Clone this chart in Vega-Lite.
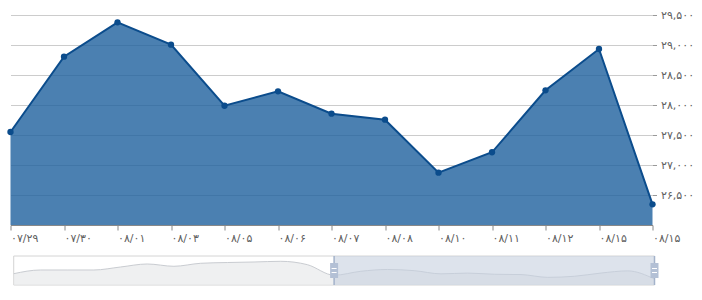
{
  "$schema": "https://vega.github.io/schema/vega-lite/v6.json",
  "background": "white",
  "padding": {"left": 6.5, "top": 0, "right": 0, "bottom": 0},
  "config": {"font": "DejaVu Sans", "view": {"stroke": null}},
  "spacing": 12,
  "datasets": {
    "main": [
      {"i": 0, "v": 27550}, {"i": 1, "v": 28805}, {"i": 2, "v": 29378}, {"i": 3, "v": 29005},
      {"i": 4, "v": 27988}, {"i": 5, "v": 28228}, {"i": 6, "v": 27855}, {"i": 7, "v": 27755},
      {"i": 8, "v": 26872}, {"i": 9, "v": 27212}, {"i": 10, "v": 28245}, {"i": 11, "v": 28933},
      {"i": 12, "v": 26345}
    ],
    "nav": [
      {"n": 0, "v": 28036}, {"n": 1, "v": 29216}, {"n": 2, "v": 29216}, {"n": 3, "v": 29216},
      {"n": 4, "v": 30170}, {"n": 5, "v": 31130}, {"n": 6, "v": 30400}, {"n": 7, "v": 31355},
      {"n": 8, "v": 31600}, {"n": 9, "v": 31770}, {"n": 10, "v": 31990}, {"n": 11, "v": 30909},
      {"n": 12, "v": 27550}, {"n": 13, "v": 28805}, {"n": 14, "v": 29378}, {"n": 15, "v": 29005},
      {"n": 16, "v": 27988}, {"n": 17, "v": 28228}, {"n": 18, "v": 27855}, {"n": 19, "v": 27755},
      {"n": 20, "v": 26872}, {"n": 21, "v": 27212}, {"n": 22, "v": 28245}, {"n": 23, "v": 28933},
      {"n": 24, "v": 26345}
    ]
  },
  "vconcat": [
    {
      "width": 642,
      "height": 225,
      "data": {"name": "main"},
      "mark": {
        "type": "area",
        "fill": "#1e609d",
        "fillOpacity": 0.8,
        "line": {"color": "#0b4c8c", "strokeWidth": 2},
        "point": {"color": "#0b4c8c", "filled": true, "size": 40, "opacity": 1}
      },
      "encoding": {
        "x": {
          "field": "i", "type": "ordinal", "sort": null,
          "scale": {"type": "point", "padding": 0},
          "axis": {
            "title": null, "labelAngle": 0, "labelAlign": "left", "labelDx": 2,
            "labelFontSize": 11, "labelColor": "#606060", "labelPadding": 2,
            "labelOverlap": false, "labelBound": false,
            "domainColor": "#888888", "tickColor": "#888888", "tickSize": 5,
            "labelExpr": "['۰۷/۲۹','۰۷/۳۰','۰۸/۰۱','۰۸/۰۳','۰۸/۰۵','۰۸/۰۶','۰۸/۰۷','۰۸/۰۸','۰۸/۱۰','۰۸/۱۱','۰۸/۱۲','۰۸/۱۵','۰۸/۱۵'][datum.value]"
          }
        },
        "y": {
          "field": "v", "type": "quantitative",
          "scale": {"domain": [26000, 29750], "zero": false, "nice": false},
          "axis": {
            "orient": "right", "title": null,
            "values": [26500, 27000, 27500, 28000, 28500, 29000, 29500],
            "grid": true, "gridColor": "#cccccc", "domain": false,
            "tickColor": "#999999", "tickSize": 4, "labelPadding": 4,
            "labelFontSize": 11, "labelColor": "#606060",
            "labelExpr": "['۲۶,۵۰۰','۲۷,۰۰۰','۲۷,۵۰۰','۲۸,۰۰۰','۲۸,۵۰۰','۲۹,۰۰۰','۲۹,۵۰۰'][(datum.value-26500)/500]"
          }
        },
        "y2": {"datum": 26000}
      }
    },
    {
      "width": 644,
      "height": 29,
      "layer": [
        {
          "data": {"values": [{"a": 0, "b": 24}]},
          "mark": {"type": "rect", "fill": "white", "stroke": "#d4d4d4", "strokeWidth": 1},
          "encoding": {
            "x": {"field": "a", "type": "quantitative", "scale": {"domain": [-0.12, 24], "nice": false, "zero": false}, "axis": null},
            "x2": {"field": "b"}
          }
        },
        {
          "data": {"name": "nav"},
          "mark": {"type": "area", "interpolate": "monotone", "fill": "#e8e9eb", "line": {"color": "#c9ccd1", "strokeWidth": 1, "interpolate": "monotone"}},
          "encoding": {
            "x": {"field": "n", "type": "quantitative", "axis": null},
            "y": {"field": "v", "type": "quantitative", "scale": {"domain": [24430, 33680], "zero": false, "nice": false}, "axis": null},
            "y2": {"datum": 24430}
          }
        },
        {
          "data": {"values": [{"a": 12, "b": 24}]},
          "mark": {"type": "rect", "fill": "#c6d0df", "opacity": 0.6},
          "encoding": {
            "x": {"field": "a", "type": "quantitative"},
            "x2": {"field": "b"}
          }
        },
        {
          "data": {"values": [{"h": 12}, {"h": 24}]},
          "layer": [
            {
              "mark": {"type": "rule", "color": "#a3b2ca", "strokeWidth": 1.5},
              "encoding": {"x": {"field": "h", "type": "quantitative"}}
            },
            {
              "mark": {"type": "tick", "orient": "vertical", "size": 15, "thickness": 8, "color": "#b3c0d5", "opacity": 1},
              "encoding": {
                "x": {"field": "h", "type": "quantitative"},
                "y": {"datum": 29055, "type": "quantitative"}
              }
            },
            {
              "mark": {"type": "tick", "orient": "horizontal", "size": 5, "thickness": 1, "color": "white", "yOffset": -2, "opacity": 1},
              "encoding": {
                "x": {"field": "h", "type": "quantitative"},
                "y": {"datum": 29055, "type": "quantitative"}
              }
            },
            {
              "mark": {"type": "tick", "orient": "horizontal", "size": 5, "thickness": 1, "color": "white", "yOffset": 2, "opacity": 1},
              "encoding": {
                "x": {"field": "h", "type": "quantitative"},
                "y": {"datum": 29055, "type": "quantitative"}
              }
            }
          ]
        }
      ]
    }
  ]
}
